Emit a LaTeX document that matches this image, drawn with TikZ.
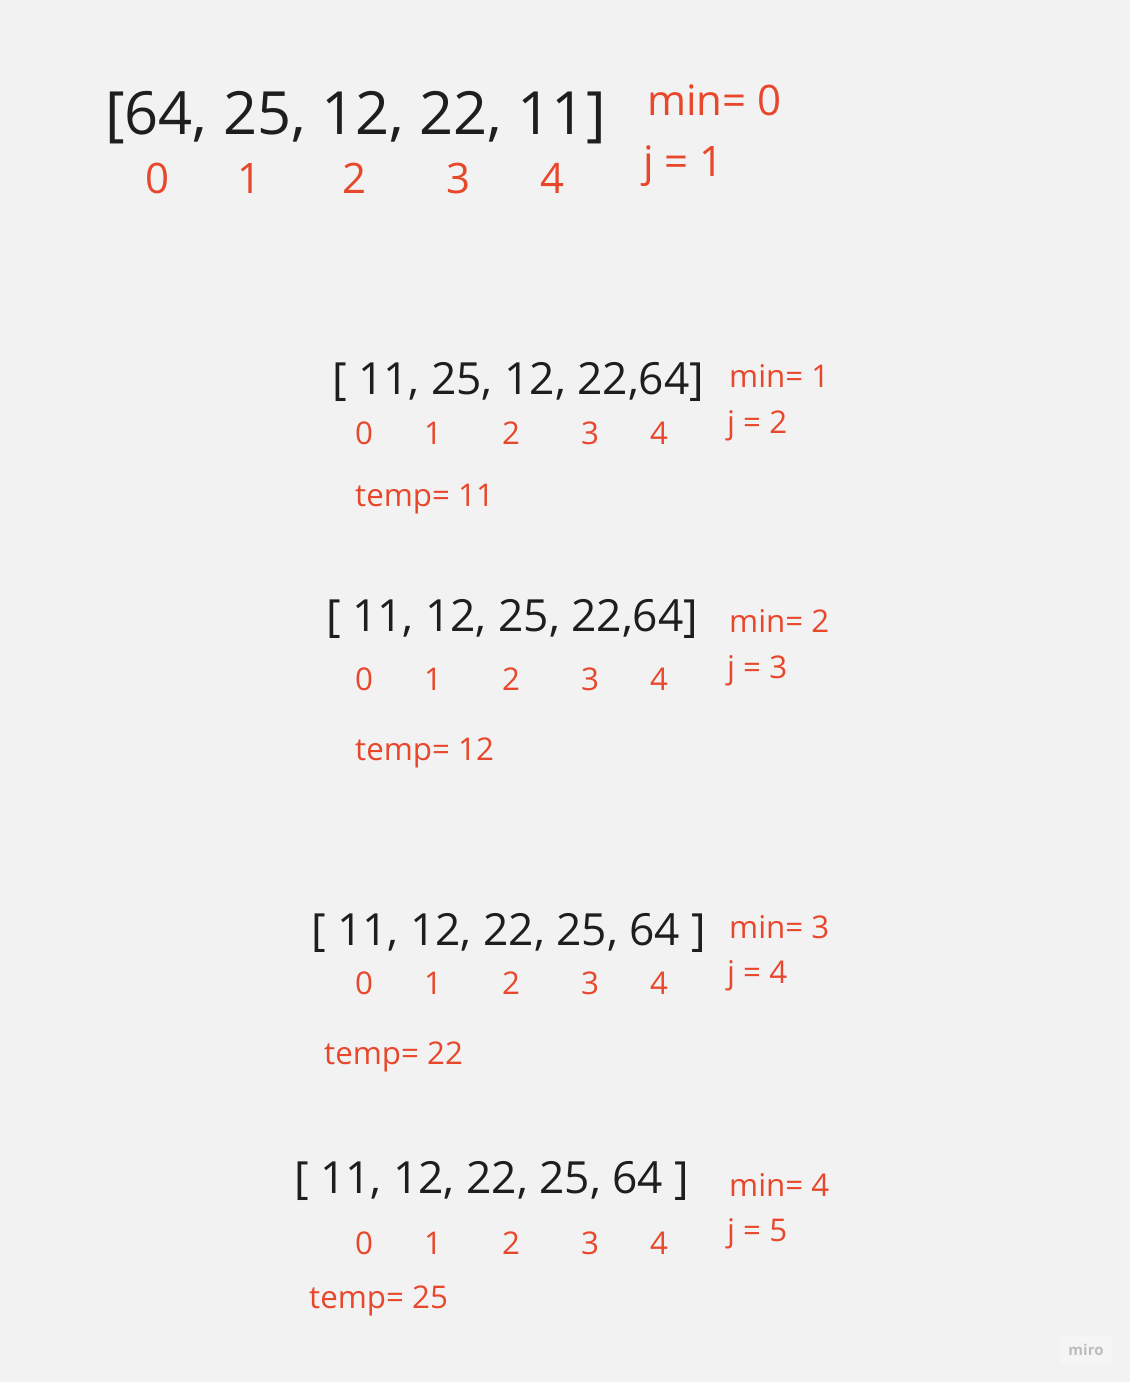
\documentclass[tikz,border=0pt]{standalone}
\usepackage{fontspec}
\setmainfont{Open Sans}
\definecolor{bg}{HTML}{F2F2F2}
\definecolor{ink}{HTML}{1E1E1E}
\definecolor{hot}{HTML}{E8472B}
\definecolor{logo}{HTML}{BDBDBD}
\tikzset{
  txt/.style={inner sep=0pt, anchor=base west},
  big/.style={txt, text=ink, font=\fontsize{59.6}{70}\selectfont},
  arr/.style={txt, text=ink, font=\fontsize{44.3}{52}\selectfont},
  redbig/.style={inner sep=0pt, text=hot, font=\fontsize{42}{50}\selectfont},
  redsm/.style={inner sep=0pt, text=hot, font=\fontsize{31.3}{38}\selectfont},
}
\begin{document}
\begin{tikzpicture}[x=1pt,y=-1pt]
\fill[bg] (0,0) rectangle (1130,1382);
\useasboundingbox (0,0) rectangle (1130,1382);
% block 1
\node[big] (a1) at (105,134) {[64, 25, 12, 22, 11]};
\foreach \x/\n [count=\i from 0] in {158/0,250/1,355/2,459/3,553/4}
  \node[redbig, anchor=base] (i1\i) at (\x,193) {\n};
\node[redbig, anchor=base west] (m1) at (647,115) {min= 0};
\node[redbig, anchor=base west] (j1) at (643,176) {j = 1};
% block 2
\node[arr] (a2) at (332,394) {[ 11, 25, 12, 22,64]};
\foreach \x/\n [count=\i from 0] in {364/0,433/1,511/2,590/3,659/4}
  \node[redsm, anchor=base] (i2\i) at (\x,444) {\n};
\node[redsm, anchor=base west] (m2) at (729,387) {min= 1};
\node[redsm, anchor=base west] (j2) at (727,433) {j = 2};
\node[redsm, anchor=base west] (t2) at (355,506) {temp= 11};
% block 3
\node[arr] (a3) at (326,631) {[ 11, 12, 25, 22,64]};
\foreach \x/\n [count=\i from 0] in {364/0,433/1,511/2,590/3,659/4}
  \node[redsm, anchor=base] (i3\i) at (\x,690) {\n};
\node[redsm, anchor=base west] (m3) at (729,632) {min= 2};
\node[redsm, anchor=base west] (j3) at (727,678) {j = 3};
\node[redsm, anchor=base west] (t3) at (355,760) {temp= 12};
% block 4
\node[arr] (a4) at (311,945) {[ 11, 12, 22, 25, 64 ]};
\foreach \x/\n [count=\i from 0] in {364/0,433/1,511/2,590/3,659/4}
  \node[redsm, anchor=base] (i4\i) at (\x,994) {\n};
\node[redsm, anchor=base west] (m4) at (729,938) {min= 3};
\node[redsm, anchor=base west] (j4) at (727,983) {j = 4};
\node[redsm, anchor=base west] (t4) at (324,1064) {temp= 22};
% block 5
\node[arr] (a5) at (294,1193) {[ 11, 12, 22, 25, 64 ]};
\foreach \x/\n [count=\i from 0] in {364/0,433/1,511/2,590/3,659/4}
  \node[redsm, anchor=base] (i5\i) at (\x,1254) {\n};
\node[redsm, anchor=base west] (m5) at (729,1196) {min= 4};
\node[redsm, anchor=base west] (j5) at (727,1241) {j = 5};
\node[redsm, anchor=base west] (t5) at (309,1308) {temp= 25};
% logo
\fill[white, opacity=0.3] (1060,1336) rectangle (1112,1364);
\node[inner sep=0pt, text=logo, font=\fontsize{15}{18}\selectfont\bfseries] (logo) at (1086,1350) {miro};
\end{tikzpicture}
\end{document}
